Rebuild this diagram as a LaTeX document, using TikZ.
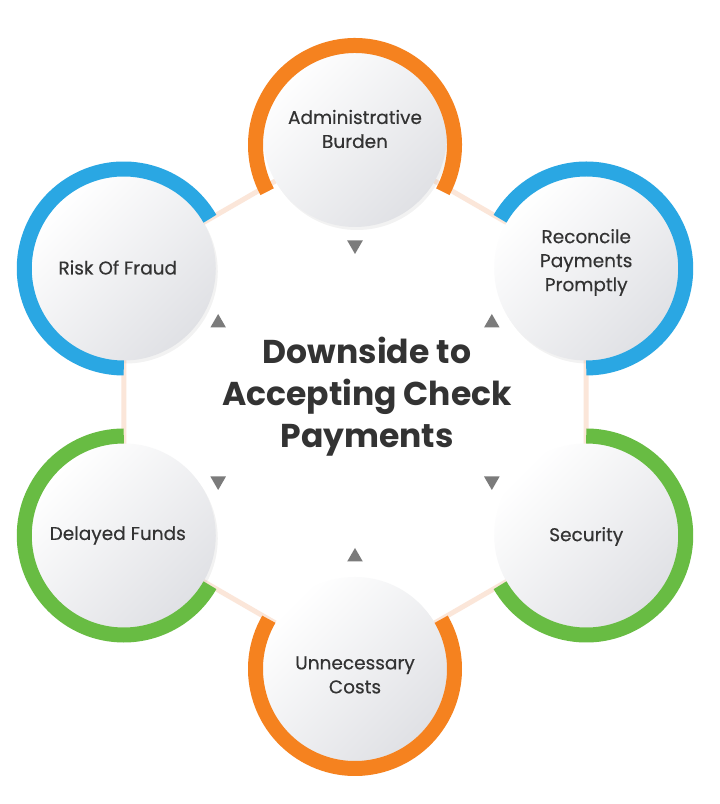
\documentclass[tikz,border=0pt]{standalone}
\usepackage{fontspec}
\setmainfont{Poppins}
\newfontfamily\labelfont[FakeBold=0.4]{Poppins}
\usetikzlibrary{calc,shadows,shapes.geometric,backgrounds}
\definecolor{orng}{HTML}{F5821F}
\definecolor{blu}{HTML}{2AA7E3}
\definecolor{grn}{HTML}{68BC43}
\definecolor{peach}{HTML}{FBE6D9}
\definecolor{txt}{HTML}{333333}
\definecolor{tri}{HTML}{7B7B7B}
\definecolor{ballgrey}{HTML}{E0E1E5}
\begin{document}
\begin{tikzpicture}[x=1pt,y=1pt,
  ball/.style={circle, minimum size=184pt, inner sep=0pt, shading=axis,
    top color=white, bottom color=ballgrey, shading angle=45,
    drop shadow={opacity=0.10, shadow xshift=2pt, shadow yshift=-3pt}},
  lbl/.style={align=center, font=\labelfont\fontsize{18.5}{24}\selectfont, text=txt},
  ringarc/.style={line width=15pt},
  link/.style={draw=peach, line width=5pt},
  marker/.style={regular polygon, regular polygon sides=3, minimum size=18pt,
    inner sep=0pt, fill=tri},
  title/.style={font=\fontsize{33}{42}\selectfont\bfseries, text=txt, align=center}]
\useasboundingbox (0,0) rectangle (720,804);
\coordinate (C) at (355,402);

% satellites
\node[ball] (b1) at ($(C)+(90:267)$)  {};
\node[ball] (b2) at ($(C)+(30:267)$)  {};
\node[ball] (b3) at ($(C)+(-30:267)$) {};
\node[ball] (b4) at ($(C)+(-90:267)$) {};
\node[ball] (b5) at ($(C)+(-150:267)$) {};
\node[ball] (b6) at ($(C)+(150:267)$) {};

% background and links behind
\begin{scope}[on background layer]
\fill[white] (0,0) rectangle (720,804);
\draw[link] (b1.center) -- (b2.center) -- (b3.center) -- (b4.center)
  -- (b5.center) -- (b6.center) -- cycle;
\end{scope}

% labels
\node[lbl] (l1) at ($(b1.center)+(0,6)$) {Administrative\\Burden};
\node[lbl] (l2) at ($(b2.center)+(0,6)$) {Reconcile\\Payments\\Promptly};
\node[lbl] (l3) at ($(b3.center)+(0,-1)$) {Security};
\node[lbl] (l4) at ($(b4.center)+(0,-6)$) {Unnecessary\\Costs};
\node[lbl] (l5) at ($(b5.center)+(-6,0)$) {Delayed Funds};
\node[lbl] (l6) at ($(b6.center)+(-6,1)$) {Risk Of Fraud};

% coloured rings
\draw[ringarc, orng] ($(b1.center)+(0,-10)$) ++(-28:99.5) arc[start angle=-28, end angle=208, radius=99.5];
\draw[ringarc, blu]  (b2.center) ++(-90:99.5) arc[start angle=-90, end angle=150, radius=99.5];
\draw[ringarc, grn]  (b3.center) ++(-150:99.5) arc[start angle=-150, end angle=90, radius=99.5];
\draw[ringarc, orng] (b4.center) ++(150:99.5) arc[start angle=150, end angle=390, radius=99.5];
\draw[ringarc, grn]  (b5.center) ++(90:99.5) arc[start angle=90, end angle=330, radius=99.5];
\draw[ringarc, blu]  (b6.center) ++(30:99.5) arc[start angle=30, end angle=270, radius=99.5];

% markers
\node[marker, rotate=180] (m1) at ($(C)+(90:157)$) {};
\node[marker] (m2) at ($(C)+(30:158)$) {};
\node[marker, rotate=180] (m3) at ($(C)+(-30:158)$) {};
\node[marker] (m4) at ($(C)+(-90:155)$) {};
\node[marker, rotate=180] (m5) at ($(C)+(-150:158)$) {};
\node[marker] (m6) at ($(C)+(150:158)$) {};

% title
\node[title] (t) at (367,407) {Downside to\\Accepting Check\\Payments};
\end{tikzpicture}
\end{document}
